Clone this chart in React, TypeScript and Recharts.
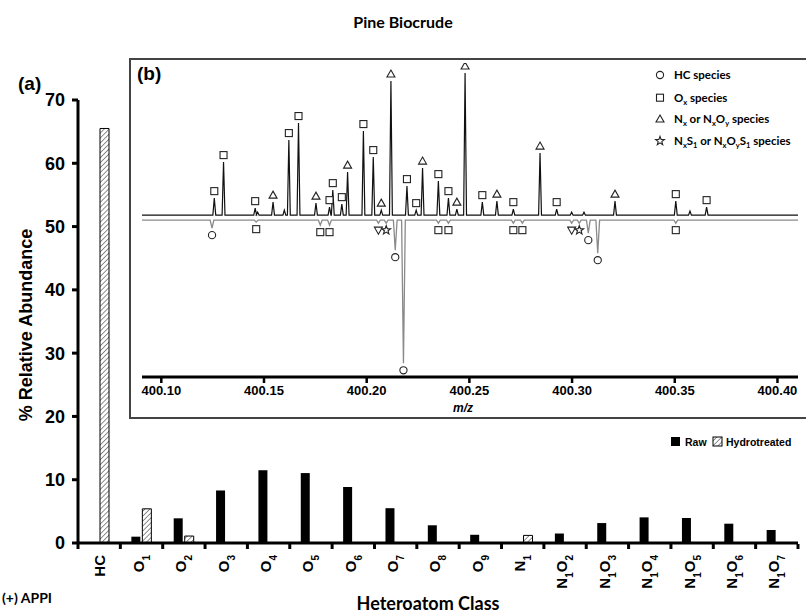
import React from "react";
import { BarChart, Bar, XAxis, YAxis, ComposedChart, Line, Scatter } from "recharts";

// (a) heteroatom class distribution
const classes = ["HC", "O1", "O2", "O3", "O4", "O5", "O6", "O7", "O8", "O9", "N1", "N1O2", "N1O3", "N1O4", "N1O5", "N1O6", "N1O7"];
const rawAbund = [0, 1.0, 3.9, 8.3, 11.5, 11.05, 8.85, 5.5, 2.8, 1.3, 0, 1.5, 3.15, 4.05, 3.95, 3.05, 2.05];
const hydroAbund = [65.5, 5.4, 1.1, 0, 0, 0, 0, 0, 0, 0, 1.2, 0, 0, 0, 0, 0, 0];
const yTicks = [0, 10, 20, 30, 40, 50, 60, 70];

// (b) mass spectrum around m/z 400, raw (up) and hydrotreated (down)
const upperMz = [400.1258, 400.1303, 400.1457, 400.1469, 400.1544, 400.1599, 400.1621, 400.1668, 400.1753, 400.1819, 400.1835, 400.1879, 400.1907, 400.1984, 400.2032, 400.2071, 400.2118, 400.2196, 400.2241, 400.2272, 400.2349, 400.2398, 400.2439, 400.2479, 400.2563, 400.2634, 400.2714, 400.2844, 400.2925, 400.2998, 400.3058, 400.3209, 400.3505, 400.3574, 400.3655];
const upperH = [17, 53, 7, 3, 13, 5, 75, 92, 12, 8, 25, 11, 43, 84, 58, 5, 134, 29, 5, 47, 34, 17, 6, 142, 13, 14, 6, 62, 6, 3, 3, 14, 14, 4, 8];
const upperTag = ["sq", "sq", "sq", "", "tri", "", "sq", "sq", "tri", "sq", "sq", "sq", "tri", "sq", "sq", "tri", "tri", "sq", "sq", "tri", "sq", "sq", "tri", "tri", "sq", "tri", "sq", "tri", "sq", "", "", "tri", "sq", "", "sq"];

const lowerMz = [400.1247, 400.1462, 400.1774, 400.1819, 400.2057, 400.2095, 400.2139, 400.2179, 400.2349, 400.2398, 400.2714, 400.2758, 400.2998, 400.3035, 400.3079, 400.3125, 400.3505];
const lowerDepth = [8, 2, 5, 5, 3, 3, 30, 143, 3, 3, 3, 3, 3, 3, 13, 33, 3];
const lowerTag = ["circ", "sq", "sq", "sq", "dtri", "star", "circ", "circ", "sq", "sq", "sq", "sq", "dtri", "star", "circ", "circ", "sq"];

const mzTicks = [400.1, 400.15, 400.2, 400.25, 400.3, 400.35, 400.4];
const mzDomain = [400.0906, 400.41];
const LOWER_BASE = -5;

const ARIAL = "'Liberation Sans', Arial, sans-serif";
const CAL = "Lato, 'Open Sans', sans-serif";
const BW = 720 / classes.length;

const barData = classes.map((c, i) => ({ cls: c, raw: rawAbund[i], hydro: hydroAbund[i] }));

function trace(mzs: number[], hs: number[], base: number, sign: number, half: number) {
  const pts = [{ mz: mzDomain[0], h: base }];
  mzs.forEach((m, i) => {
    pts.push({ mz: m - half, h: base });
    pts.push({ mz: m, h: base + sign * hs[i] });
    pts.push({ mz: m + half, h: base });
  });
  pts.push({ mz: mzDomain[1], h: base });
  return pts;
}

const upperTrace = trace(upperMz, upperH, 0, 1, 0.0007);
const lowerTrace = trace(lowerMz, lowerDepth, LOWER_BASE, -1, 0.0009);
const upperMarks = upperMz
  .map((m, i) => ({ mz: m, h: upperH[i], tag: upperTag[i], up: true }))
  .filter((d) => d.tag);
const lowerMarks = lowerMz.map((m, i) => ({ mz: m, h: LOWER_BASE - lowerDepth[i], tag: lowerTag[i], up: false }));

function starPath(cx: number, cy: number, ro: number, ri: number) {
  let d = "";
  for (let k = 0; k < 10; k++) {
    const r = k % 2 ? ri : ro;
    const a = -Math.PI / 2 + (k * Math.PI) / 5;
    d += (k ? "L" : "M") + (cx + r * Math.cos(a)).toFixed(2) + "," + (cy + r * Math.sin(a)).toFixed(2);
  }
  return d + "Z";
}

const Symbol = ({ tag, x, y }: { tag: string; x: number; y: number }) => {
  const st = { fill: "#fff", stroke: "#222", strokeWidth: 1.1 };
  if (tag === "sq") return <rect x={x - 3.5} y={y - 3.5} width={7} height={7} {...st} />;
  if (tag === "tri") return <path d={`M${x},${y - 4}L${x + 4},${y + 3}L${x - 4},${y + 3}Z`} {...st} />;
  if (tag === "dtri") return <path d={`M${x},${y + 4}L${x + 4},${y - 3}L${x - 4},${y - 3}Z`} {...st} />;
  if (tag === "circ") return <circle cx={x} cy={y} r={3.6} {...st} />;
  if (tag === "star") return <path d={starPath(x, y, 4.6, 1.9)} {...st} />;
  return null;
};

const Marker = (props: any) => {
  const { cx, cy, payload } = props;
  if (cx == null || cy == null) return null;
  return <Symbol tag={payload.tag} x={cx} y={cy + (payload.up ? -7 : 7)} />;
};

const ClassTick = (props: any) => {
  const { x, y, payload, index } = props;
  const label: string = payload.value;
  const parts = label.match(/[A-Z]+|\d+/g) || [label];
  const hasSub = /\d/.test(label);
  let sub = false;
  return (
    <g transform={`translate(${x},${y})`}>
      <line x1={-BW / 2} x2={-BW / 2} y1={1} y2={6} stroke="#000" strokeWidth={3} />
      {index === classes.length - 1 && <line x1={BW / 2} x2={BW / 2} y1={1} y2={6} stroke="#000" strokeWidth={3} />}
      <text
        transform="translate(0,12) rotate(-90)"
        x={0}
        y={hasSub ? 2.4 : 5.4}
        textAnchor="end"
        fontSize={15}
        fontWeight={700}
        fontFamily={ARIAL}
        fill="#000"
      >
        {parts.map((p, i) => {
          const isNum = /\d/.test(p);
          const dy = isNum ? 6 : sub ? -6 : 0;
          sub = isNum;
          return (
            <tspan key={i} dy={dy} fontSize={isNum ? 10 : 15}>
              {p}
            </tspan>
          );
        })}
      </text>
    </g>
  );
};

const Sub = ({ children }: { children: React.ReactNode }) => (
  <tspan dy={3} fontSize={7.5}>
    {children}
  </tspan>
);
const Up = ({ children }: { children: React.ReactNode }) => <tspan dy={-3}>{children}</tspan>;

const legendRows = [75, 97.7, 119, 141];

export default function App() {
  return (
    <div style={{ position: "absolute", left: 0, top: 0, width: 806, height: 614, overflow: "hidden", background: "#fff" }}>
      <div style={{ position: "absolute", left: 0, top: 0 }}>
        <BarChart width={806} height={614} data={barData} margin={{ top: 100, right: 8, bottom: 11, left: 0 }} barSize={9} barGap={2}>
          <defs>
            <pattern id="hatch" patternUnits="userSpaceOnUse" width={3.5} height={3.5} patternTransform="rotate(45)">
              <rect width={3.5} height={3.5} fill="#fff" />
              <line x1={0} y1={0} x2={0} y2={3.5} stroke="#444" strokeWidth={1.2} />
            </pattern>
          </defs>
          <XAxis
            dataKey="cls"
            height={60}
            interval={0}
            tickLine={false}
            tickSize={0}
            tickMargin={0}
            axisLine={{ stroke: "#000", strokeWidth: 3 }}
            tick={<ClassTick />}
          />
          <YAxis
            width={78}
            domain={[0, 70]}
            ticks={yTicks}
            interval={0}
            tickSize={6}
            tickMargin={7}
            axisLine={{ stroke: "#000", strokeWidth: 3 }}
            tickLine={{ stroke: "#000", strokeWidth: 3 }}
            tick={{ fontSize: 18, fontWeight: 700, fill: "#000", fontFamily: ARIAL }}
          />
          <Bar dataKey="raw" fill="#000" isAnimationActive={false} />
          <Bar dataKey="hydro" fill="url(#hatch)" stroke="#000" strokeWidth={1} isAnimationActive={false} />
        </BarChart>
      </div>

      <div
        style={{
          position: "absolute",
          left: 129,
          top: 58,
          width: 700,
          height: 361,
          boxSizing: "border-box",
          border: "2px solid #444",
          background: "#fff",
        }}
      />
      <div style={{ position: "absolute", left: 129, top: 58 }}>
        <ComposedChart width={677} height={361} margin={{ top: 5, right: 8, bottom: 17, left: 13 }}>
          <XAxis
            type="number"
            dataKey="mz"
            domain={mzDomain}
            allowDataOverflow
            ticks={mzTicks}
            interval={0}
            height={25}
            tickFormatter={(v: number) => v.toFixed(2)}
            tickSize={6}
            tickMargin={3}
            axisLine={{ stroke: "#000", strokeWidth: 3 }}
            tickLine={{ stroke: "#000", strokeWidth: 2.5 }}
            tick={{ fontSize: 13, fontWeight: 700, fill: "#000", fontFamily: ARIAL }}
          />
          <YAxis type="number" hide domain={[-161.7, 152]} allowDataOverflow />
          <Line data={lowerTrace} dataKey="h" type="linear" stroke="#8a8a8a" strokeWidth={1.3} dot={false} isAnimationActive={false} />
          <Line data={upperTrace} dataKey="h" type="linear" stroke="#111" strokeWidth={1.2} dot={false} isAnimationActive={false} />
          <Scatter data={upperMarks} dataKey="h" shape={Marker} isAnimationActive={false} />
          <Scatter data={lowerMarks} dataKey="h" shape={Marker} isAnimationActive={false} />
        </ComposedChart>
      </div>

      <svg width={806} height={614} style={{ position: "absolute", left: 0, top: 0, pointerEvents: "none" }}>
        <text x={403} y={28} textAnchor="middle" fontFamily={CAL} fontWeight={700} fontSize={16}>
          Pine Biocrude
        </text>
        <text x={18} y={90} fontFamily={ARIAL} fontWeight={700} fontSize={19}>
          (a)
        </text>
        <text x={137} y={80} fontFamily={ARIAL} fontWeight={700} fontSize={19}>
          (b)
        </text>
        <text transform="translate(32,325) rotate(-90)" textAnchor="middle" fontFamily={ARIAL} fontWeight={700} fontSize={18}>
          % Relative Abundance
        </text>
        <text x={428} y={610} textAnchor="middle" fontFamily={CAL} fontWeight={700} fontSize={18}>
          Heteroatom Class
        </text>
        <text x={2} y={603} fontFamily={CAL} fontWeight={700} fontSize={14}>
          (+) APPI
        </text>
        <text x={463} y={412} textAnchor="middle" fontFamily={ARIAL} fontStyle="italic" fontWeight={700} fontSize={12}>
          m/z
        </text>

        {/* main legend */}
        <rect x={671} y={437} width={9} height={9} fill="#000" />
        <text x={685} y={446} fontFamily={ARIAL} fontWeight={700} fontSize={10.5}>
          Raw
        </text>
        <rect x={713} y={437} width={9} height={9} fill="url(#hatch)" stroke="#000" strokeWidth={1} />
        <text x={726} y={446} fontFamily={ARIAL} fontWeight={700} fontSize={10.5}>
          Hydrotreated
        </text>

        {/* inset legend */}
        <Symbol tag="circ" x={660} y={legendRows[0]} />
        <Symbol tag="sq" x={660} y={legendRows[1]} />
        <Symbol tag="tri" x={660} y={legendRows[2]} />
        <Symbol tag="star" x={660} y={legendRows[3]} />
        <g fontFamily={CAL} fontWeight={700} fontSize={11.5} fill="#000">
          <text x={674} y={legendRows[0] + 4}>HC species</text>
          <text x={674} y={legendRows[1] + 4}>
            O<Sub>x</Sub>
            <Up> species</Up>
          </text>
          <text x={674} y={legendRows[2] + 4}>
            N<Sub>x</Sub>
            <Up> or N</Up>
            <Sub>x</Sub>
            <Up>O</Up>
            <Sub>y</Sub>
            <Up> species</Up>
          </text>
          <text x={674} y={legendRows[3] + 4}>
            N<Sub>x</Sub>
            <Up>S</Up>
            <Sub>1</Sub>
            <Up> or N</Up>
            <Sub>x</Sub>
            <Up>O</Up>
            <Sub>y</Sub>
            <Up>S</Up>
            <Sub>1</Sub>
            <Up> species</Up>
          </text>
        </g>
      </svg>
    </div>
  );
}
